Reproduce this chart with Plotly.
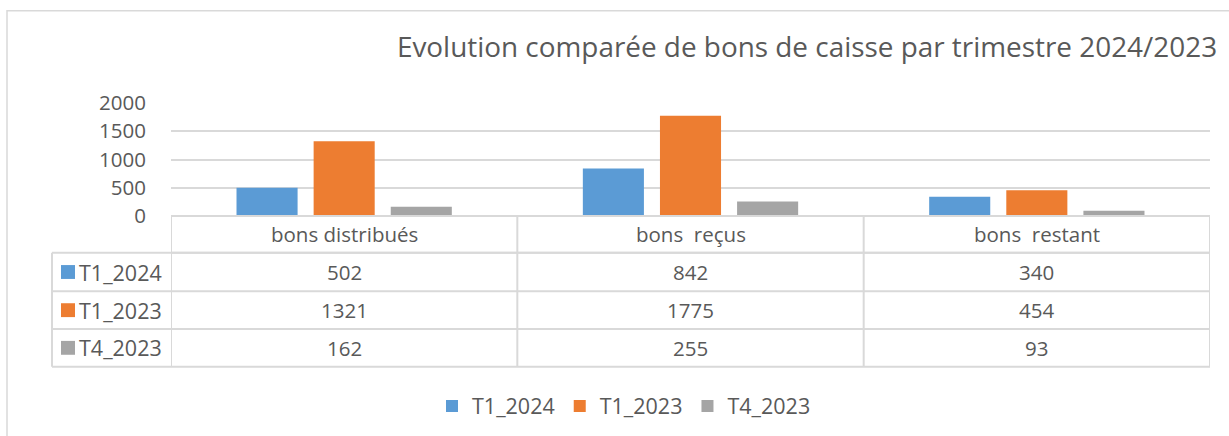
import plotly.graph_objects as go

categories = ["bons distribués", "bons  reçus", "bons  restant"]
series_names = ["T1_2024", "T1_2023", "T4_2023"]
t1_2024 = [502, 842, 340]
t1_2023 = [1321, 1775, 454]
t4_2023 = [162, 255, 93]
colors = ["#5B9BD5", "#ED7D31", "#A5A5A5"]
title_text = "Evolution comparée de bons de caisse par trimestre 2024/2023"

series_values = [t1_2024, t1_2023, t4_2023]

FONT = "Open Sans"
TXT = "#595959"
LINE = "#D9D9D9"

W, H = 1229, 436
PL, PR, PT, PB = 171, 1210, 103, 217


def xp(px):
    return (px - PL) / (PR - PL)


def yp(py):
    return (PB - py) / (PB - PT)


def nb(s):
    return s.replace("  ", " \u00a0")


fig = go.Figure()
for name, vals, col in zip(series_names, series_values, colors):
    fig.add_trace(go.Bar(x=list(range(len(categories))), y=vals, name=name,
                         marker=dict(color=col, line=dict(width=0))))

shapes = []
annotations = []

# outer chart border
shapes.append(dict(type="rect", xref="paper", yref="paper",
                   x0=xp(7), x1=xp(1300), y0=yp(10), y1=yp(500),
                   line=dict(color=LINE, width=1.5), layer="below"))

# table lines
row_lines = [217, 254, 293, 331, 369]
n = len(categories)
shapes.append(dict(type="line", xref="paper", yref="paper", x0=0, x1=1,
                   y0=yp(row_lines[0]), y1=yp(row_lines[0]), line=dict(color=LINE, width=2)))
shapes.append(dict(type="line", xref="paper", yref="paper", x0=0, x1=1,
                   y0=yp(row_lines[1]), y1=yp(row_lines[1]), line=dict(color=LINE, width=2)))
for py in row_lines[1:]:
    shapes.append(dict(type="line", xref="paper", yref="paper", x0=xp(52), x1=1,
                       y0=yp(py), y1=yp(py), line=dict(color=LINE, width=2)))
for i in range(n + 1):
    shapes.append(dict(type="line", xref="x", yref="paper", x0=i - 0.5, x1=i - 0.5,
                       y0=yp(row_lines[0]), y1=yp(row_lines[-1]), line=dict(color=LINE, width=2)))
shapes.append(dict(type="line", xref="paper", yref="paper", x0=xp(52), x1=xp(52),
                   y0=yp(row_lines[1]), y1=yp(row_lines[-1]), line=dict(color=LINE, width=2)))

# header text
for i, c in enumerate(categories):
    annotations.append(dict(x=i, xref="x", y=yp((row_lines[0] + row_lines[1]) / 2), yref="paper",
                            text=nb(c), showarrow=False, xanchor="center", yanchor="middle",
                            font=dict(family=FONT, size=20.5, color=TXT)))

# rows
for r, (name, vals, col) in enumerate(zip(series_names, series_values, colors)):
    cy = (row_lines[r + 1] + row_lines[r + 2]) / 2
    shapes.append(dict(type="rect", xref="paper", yref="paper",
                       x0=xp(61), x1=xp(75), y0=yp(cy - 7), y1=yp(cy + 7),
                       fillcolor=col, line=dict(width=0)))
    annotations.append(dict(x=xp(77), xref="paper", y=yp(cy), yref="paper",
                            text=name, showarrow=False, xanchor="left", yanchor="middle",
                            font=dict(family=FONT, size=21.5, color=TXT)))
    for i, v in enumerate(vals):
        annotations.append(dict(x=i, xref="x", y=yp(cy), yref="paper",
                                text=str(v), showarrow=False, xanchor="center", yanchor="middle",
                                font=dict(family=FONT, size=20.5, color=TXT)))

fig.update_layout(
    width=W, height=H,
    margin=dict(l=PL, r=W - PR, t=PT, b=H - PB),
    paper_bgcolor="white", plot_bgcolor="white",
    title=dict(text=title_text, x=807 / W, xanchor="center", y=1 - 47 / H, yanchor="middle",
               xref="container", yref="container",
               font=dict(family=FONT, size=27.9, color=TXT)),
    barmode="group", bargap=0.332, bargroupgap=0.208,
    xaxis=dict(range=[-0.5, n - 0.5], showticklabels=False, showgrid=False,
               zeroline=False, showline=False, fixedrange=True),
    yaxis=dict(range=[0, 2000], dtick=500, showgrid=True, gridcolor=LINE, gridwidth=2,
               zeroline=False, showline=False, ticklabelstandoff=24,
               tickfont=dict(family=FONT, size=20.5, color=TXT)),
    showlegend=True,
    legend=dict(orientation="h", x=xp(624), xanchor="center", y=yp(406), yanchor="middle",
                font=dict(family=FONT, size=21.5, color=TXT), itemwidth=30,
                bgcolor="rgba(0,0,0,0)"),
    shapes=shapes, annotations=annotations,
)

fig.write_html("out.html", config={"displayModeBar": False},
               post_script="document.body.style.margin='0';")
